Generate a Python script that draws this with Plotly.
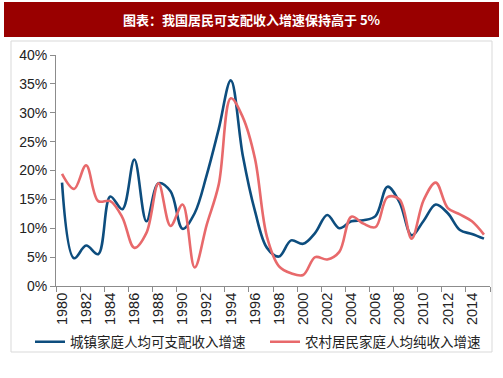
import plotly.graph_objects as go

years = list(range(1980, 2016))
urban = [17.9, 4.8, 7.0, 5.5, 15.5, 13.3, 21.9, 11.2, 17.8, 16.4,
         9.9, 12.6, 19.2, 27.2, 35.6, 22.5, 13.0, 6.6, 5.1, 7.9,
         7.3, 9.2, 12.3, 10.0, 11.2, 11.4, 12.1, 17.2, 14.5, 8.8,
         11.3, 14.1, 12.6, 9.7, 9.0, 8.2]
rural = [19.4, 16.8, 20.9, 14.7, 14.7, 11.9, 6.6, 9.2, 17.8, 10.4,
         14.1, 3.2, 10.6, 17.6, 32.5, 29.2, 22.1, 8.5, 3.4, 2.2,
         1.9, 5.0, 4.6, 5.9, 12.0, 10.8, 10.2, 15.4, 15.0, 8.2,
         14.9, 17.9, 13.5, 12.4, 11.2, 8.9]
series_names = ["城镇家庭人均可支配收入增速", "农村居民家庭人均纯收入增速"]
title_text = "图表：我国居民可支配收入增速保持高于 5%"
tick_years = list(range(1980, 2015, 2))
y_ticks = [0, 5, 10, 15, 20, 25, 30, 35, 40]

L, R, T, B = 56, 13, 55, 92
W, H = 503, 378
PW, PH = W - L - R, H - T - B

def px(x):
    return (x - L) / PW

def py(y):
    return (H - B - y) / PH

fig = go.Figure()
fig.add_trace(go.Scatter(x=years, y=urban, mode="lines", name=series_names[0], legend="legend",
                         line=dict(color="#0d4d7e", width=2.6, shape="spline", smoothing=1.0)))
fig.add_trace(go.Scatter(x=years, y=rural, mode="lines", name=series_names[1], legend="legend2",
                         line=dict(color="#e8696b", width=2.6, shape="spline", smoothing=1.0)))

leg_common = dict(orientation="h", xref="container", yref="container",
                  y=1 - 342 / H, xanchor="left", yanchor="middle",
                  font=dict(size=13.5, family="Noto Sans CJK SC", color="#222"),
                  itemwidth=30, bgcolor="rgba(0,0,0,0)", borderwidth=0)

fig.update_layout(
    width=W, height=H,
    margin=dict(l=L, r=R, t=T, b=B, autoexpand=False),
    paper_bgcolor="white", plot_bgcolor="white",
    font=dict(family="Liberation Sans, Arial, Noto Sans CJK SC", color="#222", size=13),
    showlegend=True,
    legend=dict(x=30 / W, **leg_common),
    legend2=dict(x=265 / W, **leg_common),
    xaxis=dict(range=[1979.5, 2015.5], tickvals=tick_years, ticktext=[str(y) for y in tick_years],
               tickangle=-90, ticks="", showgrid=False, zeroline=False, automargin=False,
               showline=True, linecolor="#8c8c8c", linewidth=1,
               tickfont=dict(size=14.5, color="#222"),
               minor=dict(tick0=1979.5, dtick=2, ticks="outside", ticklen=5, tickcolor="#8c8c8c", showgrid=False)),
    yaxis=dict(range=[0, 40], tickvals=y_ticks, ticktext=[f"{v}%" for v in y_ticks],
               ticks="outside", ticklen=5, tickcolor="#8c8c8c", showgrid=False, zeroline=False, automargin=False,
               showline=True, linecolor="#8c8c8c", linewidth=1,
               tickfont=dict(size=14, color="#222")),
    shapes=[
        dict(type="rect", xref="paper", yref="paper", x0=px(11), x1=px(492), y0=py(352), y1=py(41),
             line=dict(color="#d9d9d9", width=1), fillcolor="rgba(0,0,0,0)", layer="below"),
        dict(type="rect", xref="paper", yref="paper", x0=px(4), x1=px(499), y0=py(37), y1=py(2),
             line=dict(width=0), fillcolor="#990000", layer="below"),
    ],
    annotations=[
        dict(text="<b>" + title_text + "</b>", xref="paper", yref="paper", x=px(251.5), y=py(19.5),
             showarrow=False, font=dict(size=13, color="white", family="Noto Sans CJK SC"),
             xanchor="center", yanchor="middle"),
    ],
)

fig.write_html("out.html", config={"displayModeBar": False},
               post_script="document.body.style.margin='0';")
